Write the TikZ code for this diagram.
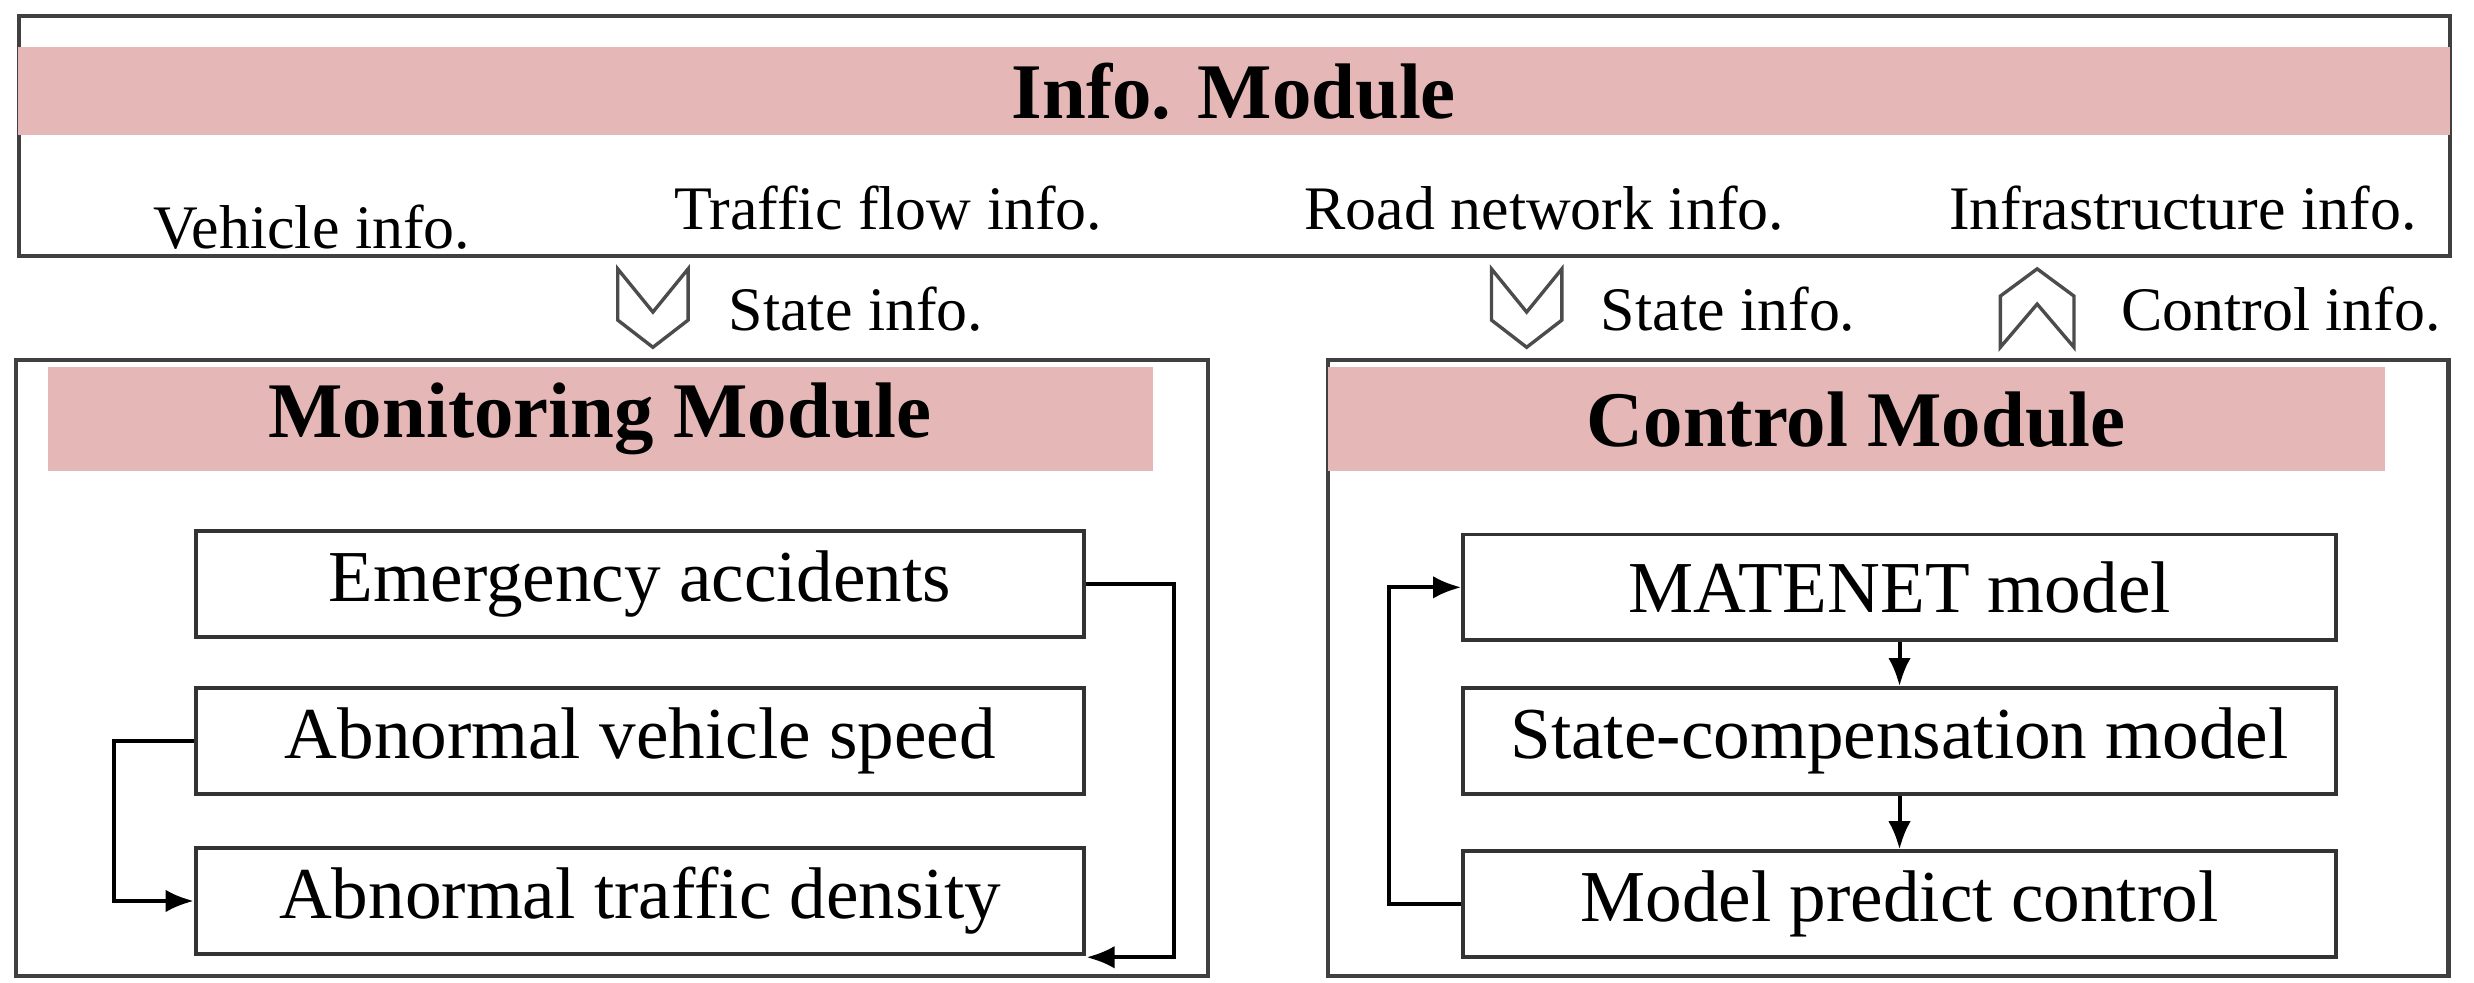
\documentclass[tikz,border=0pt]{standalone}
\usepackage{fontspec}
\setmainfont{Liberation Serif}
\usetikzlibrary{arrows.meta}
\definecolor{bandpink}{RGB}{229,184,183}
\begin{document}
\begin{tikzpicture}[x=0.01cm,y=-0.01cm,
  frame/.style={draw=black!75,line width=0.8pt},
  band/.style={fill=bandpink,inner sep=0pt,font=\fontsize{14}{16}\selectfont\bfseries},
  item/.style={draw=black!80,line width=0.7pt,minimum width=5.55cm,minimum height=0.66cm,font=\fontsize{13}{15}\selectfont},
  info/.style={font=\fontsize{11}{13}\selectfont},
  chev/.style={draw=black!70,fill=white,line width=0.6pt},
  link/.style={draw=black,line width=0.7pt,-{Latex[length=5pt,width=4pt]}}] %
  \useasboundingbox (0,0) rectangle (1546,614);
  % info module
  \draw[frame] (12,10) rectangle (1531,160);
  \node[band,minimum width=15.19cm,minimum height=0.55cm] (infohead) at (771,57) {Info. Module};
  \node[info] (veh) at (195,142) {Vehicle info.};
  \node[info] (flow) at (555,130) {Traffic flow info.};
  \node[info] (road) at (965,130) {Road network info.};
  \node[info] (infra) at (1364,130) {Infrastructure info.};
  % chevrons
  \draw[chev] (386,168) -- (408,195) -- (430,168) -- (430,200) -- (408,217) -- (386,200) -- cycle;
  \node[info,anchor=west] (state1) at (443,193) {State info.};
  \draw[chev] (932,168) -- (954,195) -- (976,168) -- (976,200) -- (954,217) -- (932,200) -- cycle;
  \node[info,anchor=west] (state2) at (988,193) {State info.};
  \draw[chev] (1250,217) -- (1273,190) -- (1296,217) -- (1296,185) -- (1273,168) -- (1250,185) -- cycle;
  \node[info,anchor=west] (ctrl) at (1313,193) {Control info.};
  % monitoring module
  \draw[frame] (10,225) rectangle (755,610);
  \node[band,minimum width=6.9cm,minimum height=0.65cm] (monhead) at (375,262) {Monitoring Module};
  \node[item] (emerg) at (400,365) {Emergency accidents};
  \node[item] (speed) at (400,463) {Abnormal vehicle speed};
  \node[item] (dens) at (400,563) {Abnormal traffic density};
  \draw[link] (emerg.east) -- ++(55,0) |- ([yshift=-10]dens.east);
  \draw[link] (speed.west) -- ++(-50,0) |- (dens.west);
  % control module
  \draw[frame] (830,225) rectangle (1530,610);
  \node[band,minimum width=6.6cm,minimum height=0.65cm] (ctrlhead) at (1160,262) {Control Module};
  \node[item,minimum width=5.45cm] (mat) at (1187,367) {MATENET model};
  \node[item,minimum width=5.45cm] (comp) at (1187,463) {State-compensation model};
  \node[item,minimum width=5.45cm] (mpc) at (1187,565) {Model predict control};
  \draw[link] (mat) -- (comp);
  \draw[link] (comp) -- (mpc);
  \draw[link] (mpc.west) -- ++(-45,0) |- (mat.west);
\end{tikzpicture}
\end{document}
